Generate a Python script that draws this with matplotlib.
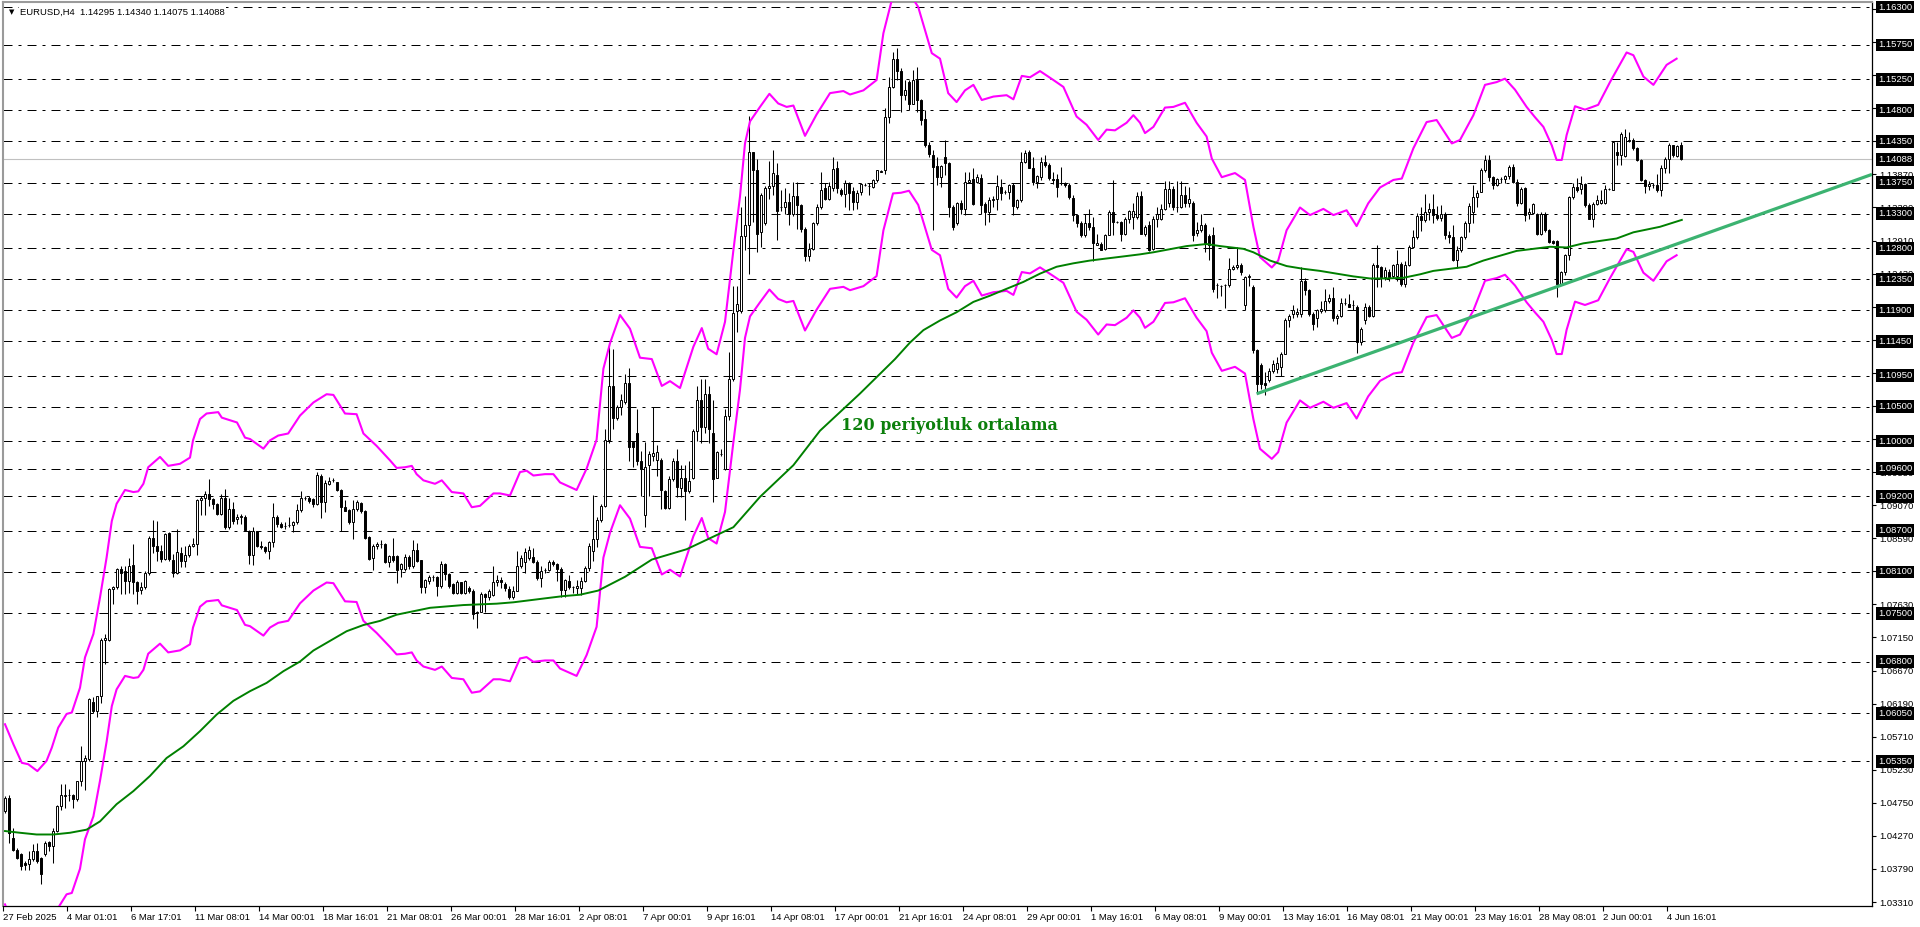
import numpy as np
import matplotlib
matplotlib.use('Agg')
import matplotlib.pyplot as plt

plt.rcParams['font.family'] = ['Liberation Sans', 'DejaVu Sans']

# EURUSD H4 candles, prices in pips above 1.0000
opens = [
    463, 482, 424, 407, 400, 388, 386, 393, 405, 395, 400, 418, 412, 434, 470, 485, 487, 487, 480, 507,
    536, 538, 622, 608, 630, 712, 712, 785, 788, 814, 812, 797, 820, 795, 784, 788, 808, 860, 848, 841,
    829, 866, 827, 808, 838, 826, 834, 848, 851, 915, 917, 923, 916, 908, 894, 918, 876, 901, 887, 890,
    890, 870, 835, 869, 848, 846, 840, 853, 890, 880, 877, 878, 878, 882, 900, 918, 918, 916, 909, 950,
    911, 938, 943, 940, 929, 904, 900, 882, 901, 910, 899, 861, 830, 847, 850, 850, 825, 833, 833, 814,
    815, 832, 818, 842, 827, 788, 797, 802, 802, 789, 822, 807, 793, 780, 795, 780, 787, 782, 750, 752,
    778, 774, 777, 796, 799, 793, 785, 773, 783, 819, 824, 830, 832, 825, 801, 813, 813, 824, 821, 815,
    784, 797, 788, 787, 787, 797, 816, 840, 858, 885, 906, 1002, 1080, 1033, 1049, 1056, 1085, 999, 1012, 971,
    893, 965, 978, 973, 973, 927, 903, 945, 971, 932, 947, 927, 947, 1015, 1059, 1020, 1069, 1012, 947, 981,
    960, 1036, 1090, 1189, 1189, 1298, 1313, 1420, 1394, 1303, 1316, 1368, 1370, 1386, 1339, 1339, 1347, 1329, 1355, 1342,
    1308, 1269, 1279, 1316, 1340, 1368, 1352, 1368, 1396, 1365, 1359, 1375, 1363, 1347, 1361, 1371, 1370, 1369, 1379, 1391,
    1394, 1470, 1514, 1554, 1537, 1502, 1521, 1489, 1524, 1495, 1467, 1430, 1415, 1399, 1383, 1412, 1403, 1340, 1316, 1345,
    1337, 1376, 1380, 1376, 1382, 1344, 1333, 1350, 1351, 1369, 1361, 1361, 1371, 1339, 1350, 1405, 1420, 1397, 1376, 1383,
    1405, 1400, 1381, 1380, 1374, 1374, 1371, 1353, 1328, 1317, 1299, 1317, 1311, 1285, 1286, 1279, 1299, 1333, 1318, 1318,
    1301, 1323, 1325, 1325, 1355, 1301, 1313, 1279, 1323, 1323, 1337, 1346, 1366, 1340, 1340, 1357, 1345, 1345, 1302, 1306,
    1314, 1298, 1299, 1226, 1225, 1226, 1226, 1250, 1252, 1255, 1197, 1238, 1224, 1132, 1111, 1085, 1089, 1101, 1105, 1107,
    1127, 1175, 1185, 1185, 1185, 1233, 1219, 1185, 1178, 1189, 1190, 1204, 1208, 1178, 1182, 1200, 1199, 1198, 1195, 1144,
    1175, 1195, 1182, 1255, 1252, 1238, 1245, 1240, 1240, 1257, 1228, 1255, 1282, 1296, 1326, 1321, 1332, 1337, 1328, 1324,
    1330, 1299, 1296, 1263, 1277, 1296, 1317, 1332, 1354, 1362, 1393, 1408, 1383, 1371, 1381, 1380, 1384, 1398, 1376, 1345,
    1367, 1330, 1331, 1330, 1301, 1330, 1306, 1291, 1291, 1228, 1245, 1270, 1354, 1369, 1366, 1373, 1342, 1323, 1344, 1346,
    1345, 1366, 1365, 1420, 1415, 1414, 1436, 1437, 1425, 1408, 1379, 1370, 1372, 1372, 1364, 1396, 1410, 1429, 1414, 1429.5,
]
highs = [
    485, 487, 439, 410, 402, 390, 405, 415, 417, 397, 420, 420, 439, 472, 502, 502, 495, 488, 507, 558,
    545, 627, 628, 630, 714, 720, 787, 790, 816, 819, 819, 831, 850, 797, 795, 812, 862, 885, 884, 849,
    866, 868, 836, 872, 846, 848, 850, 860, 916, 921, 928, 945, 918, 910, 923, 930, 918, 911, 894, 894,
    892, 871, 875, 870, 855, 848, 855, 910, 892, 882, 882, 890, 884, 909, 928, 920, 920, 918, 955, 952,
    943, 948, 946, 941, 930, 914, 902, 915, 915, 912, 900, 862, 850, 853, 856, 852, 834, 860, 834, 823,
    836, 834, 856, 852, 828, 800, 806, 805, 804, 826, 823, 808, 794, 798, 796, 798, 789, 786, 754, 781,
    779, 785, 818, 806, 803, 796, 790, 790, 841, 835, 845, 847, 845, 828, 819, 816, 827, 828, 823, 817,
    800, 806, 790, 799, 803, 818, 852, 922, 890, 908, 1017, 1142, 1134, 1052, 1069, 1098, 1106, 999, 1046, 986,
    999, 986, 1049, 994, 976, 929, 950, 976, 989, 965, 965, 971, 1017, 1080, 1090, 1090, 1080, 1059, 986, 989,
    1046, 1129, 1225, 1225, 1339, 1355, 1472, 1420, 1409, 1360, 1370, 1407, 1422, 1404, 1365, 1368, 1360, 1376, 1376, 1344,
    1311, 1287, 1318, 1344, 1390, 1374, 1376, 1412, 1407, 1368, 1379, 1376, 1369, 1364, 1375, 1375, 1374, 1381, 1394, 1393,
    1483, 1529, 1565, 1570, 1541, 1524, 1524, 1539, 1543, 1497, 1480, 1434, 1422, 1413, 1400, 1437, 1405, 1342, 1347, 1350,
    1391, 1391, 1396, 1388, 1388, 1347, 1354, 1355, 1386, 1381, 1364, 1373, 1374, 1351, 1420, 1422, 1423, 1412, 1386, 1413,
    1415, 1403, 1391, 1388, 1398, 1376, 1374, 1357, 1330, 1320, 1330, 1337, 1325, 1301, 1289, 1301, 1335, 1379, 1320, 1320,
    1325, 1335, 1345, 1362, 1363, 1314, 1319, 1327, 1340, 1344, 1378, 1378, 1370, 1378, 1378, 1370, 1369, 1348, 1318, 1330,
    1316, 1300, 1310, 1229, 1227, 1228, 1266, 1256, 1282, 1258, 1240, 1242, 1226, 1134, 1113, 1100, 1106, 1117, 1122, 1130,
    1178, 1184, 1197, 1193, 1252, 1236, 1221, 1187, 1192, 1204, 1221, 1214, 1224, 1185, 1208, 1207, 1213, 1205, 1197, 1166,
    1200, 1197, 1258, 1284, 1254, 1252, 1250, 1257, 1278, 1260, 1262, 1284, 1306, 1331, 1339, 1359, 1346, 1358, 1341, 1343,
    1332, 1305, 1313, 1283, 1297, 1319, 1345, 1372, 1364, 1396, 1415, 1415, 1384, 1382, 1383, 1386, 1400, 1402, 1380, 1369,
    1369, 1338, 1346, 1331, 1332, 1332, 1308, 1292, 1292, 1247, 1271, 1355, 1374, 1382, 1385, 1375, 1345, 1347, 1357, 1365,
    1371, 1368, 1436, 1434, 1448, 1453, 1448, 1440, 1427, 1410, 1381, 1377, 1375, 1388, 1401, 1412, 1432, 1430, 1430, 1434,
]
lows = [
    460, 417, 405, 393, 378, 378, 378, 391, 388, 357, 398, 405, 388, 432, 465, 468, 478, 468, 477, 499,
    494, 536, 606, 599, 620, 676, 710, 763, 785, 778, 778, 780, 778, 763, 778, 786, 806, 838, 826, 824,
    827, 826, 802, 807, 817, 817, 832, 846, 834, 892, 892, 906, 901, 892, 892, 872, 872, 880, 880, 880,
    869, 822, 820, 846, 843, 838, 829, 846, 876, 874, 872, 875, 868, 880, 897, 915, 910, 904, 907, 889,
    897, 936, 940, 928, 870, 898, 879, 858, 898, 896, 858, 828, 813, 843, 845, 823, 817, 825, 794, 802,
    812, 814, 816, 824, 780, 780, 793, 797, 775, 787, 798, 787, 778, 778, 778, 778, 779, 742, 729, 752,
    752, 770, 775, 790, 787, 782, 771, 771, 783, 816, 808, 827, 823, 799, 788, 808, 811, 818, 797, 774,
    774, 786, 780, 778, 777, 795, 812, 826, 846, 883, 904, 997, 1017, 1030, 1038, 1054, 971, 963, 965, 921,
    875, 921, 971, 950, 901, 901, 901, 942, 919, 919, 885, 924, 945, 1000, 997, 1012, 997, 911, 947, 978,
    958, 1030, 1087, 1158, 1186, 1277, 1243, 1318, 1274, 1282, 1313, 1352, 1357, 1292, 1334, 1329, 1313, 1326, 1308, 1303,
    1261, 1262, 1277, 1313, 1337, 1350, 1350, 1363, 1360, 1355, 1340, 1335, 1335, 1337, 1357, 1370, 1357, 1367, 1376, 1390,
    1388, 1461, 1512, 1524, 1478, 1495, 1480, 1489, 1478, 1459, 1427, 1413, 1306, 1371, 1369, 1386, 1325, 1306, 1313, 1330,
    1328, 1374, 1342, 1374, 1330, 1313, 1318, 1340, 1335, 1350, 1359, 1352, 1328, 1337, 1347, 1403, 1396, 1371, 1367, 1379,
    1398, 1379, 1373, 1354, 1371, 1369, 1352, 1320, 1311, 1296, 1296, 1306, 1262, 1284, 1277, 1277, 1299, 1299, 1316, 1291,
    1299, 1316, 1308, 1323, 1300, 1297, 1276, 1277, 1311, 1321, 1335, 1340, 1336, 1333, 1338, 1340, 1340, 1290, 1297, 1304,
    1275, 1263, 1216, 1208, 1211, 1193, 1224, 1248, 1250, 1241, 1190, 1225, 1128, 1068, 1075, 1067, 1086, 1099, 1099, 1094,
    1126, 1166, 1178, 1180, 1180, 1212, 1182, 1161, 1165, 1186, 1188, 1200, 1174, 1170, 1180, 1198, 1194, 1190, 1128, 1140,
    1170, 1180, 1180, 1224, 1223, 1234, 1232, 1236, 1232, 1225, 1224, 1254, 1280, 1294, 1305, 1318, 1321, 1317, 1321, 1319,
    1294, 1287, 1261, 1251, 1274, 1294, 1304, 1316, 1340, 1361, 1391, 1377, 1366, 1370, 1375, 1375, 1380, 1374, 1341, 1344,
    1320, 1323, 1330, 1299, 1299, 1303, 1287, 1286, 1209, 1226, 1241, 1263, 1352, 1362, 1359, 1339, 1322, 1311, 1342, 1344,
    1344, 1364, 1364, 1401, 1401, 1412, 1434, 1423, 1406, 1377, 1360, 1365, 1367, 1362, 1355, 1389, 1389, 1413, 1412, 1407.5,
]
closes = [
    482, 431, 407, 395, 383, 385, 393, 405, 390, 372, 417, 412, 434, 470, 486, 487, 486, 480, 507, 536,
    540, 625, 608, 630, 712, 714, 785, 788, 814, 809, 797, 819, 795, 783, 788, 809, 860, 848, 841, 829,
    865, 829, 808, 839, 826, 834, 848, 851, 914, 917, 923, 916, 908, 894, 918, 875, 901, 884, 890, 891,
    871, 835, 869, 848, 846, 841, 853, 890, 879, 876, 877, 878, 882, 900, 918, 918, 913, 909, 951, 911,
    939, 942, 944, 929, 904, 899, 882, 901, 911, 898, 860, 829, 848, 850, 850, 825, 833, 827, 813, 822,
    832, 818, 842, 826, 788, 798, 802, 802, 789, 822, 807, 789, 780, 795, 780, 797, 782, 749, 752, 778,
    774, 783, 796, 799, 796, 787, 773, 783, 819, 830, 839, 842, 825, 801, 812, 813, 824, 821, 814, 784,
    798, 788, 788, 790, 797, 816, 848, 858, 885, 906, 1002, 1080, 1033, 1049, 1059, 1085, 991, 991, 971, 960,
    963, 981, 982, 984, 929, 903, 945, 971, 934, 947, 927, 942, 1015, 1059, 1020, 1069, 1017, 945, 984, 981,
    1036, 1090, 1186, 1199, 1298, 1313, 1420, 1394, 1300, 1357, 1368, 1370, 1389, 1334, 1339, 1347, 1329, 1355, 1342, 1308,
    1269, 1279, 1316, 1340, 1365, 1352, 1370, 1395, 1368, 1359, 1375, 1360, 1347, 1360, 1373, 1371, 1370, 1379, 1393, 1392,
    1470, 1514, 1554, 1537, 1502, 1510, 1489, 1524, 1495, 1466, 1430, 1416, 1398, 1383, 1399, 1403, 1340, 1311, 1345, 1337,
    1376, 1379, 1344, 1383, 1342, 1333, 1350, 1351, 1370, 1360, 1361, 1371, 1341, 1350, 1405, 1418, 1397, 1376, 1384, 1405,
    1400, 1382, 1379, 1369, 1374, 1371, 1354, 1328, 1317, 1299, 1317, 1311, 1288, 1288, 1278, 1299, 1333, 1318, 1318, 1301,
    1323, 1334, 1334, 1355, 1301, 1311, 1277, 1323, 1330, 1337, 1366, 1366, 1339, 1340, 1357, 1345, 1352, 1299, 1306, 1314,
    1287, 1284, 1221, 1226, 1225, 1226, 1250, 1252, 1255, 1245, 1238, 1239, 1132, 1083, 1083, 1081, 1101, 1112, 1113, 1127,
    1175, 1182, 1190, 1188, 1233, 1219, 1185, 1170, 1190, 1191, 1204, 1208, 1178, 1182, 1201, 1200, 1195, 1198, 1144, 1162,
    1195, 1182, 1255, 1252, 1238, 1248, 1238, 1255, 1257, 1228, 1255, 1282, 1296, 1326, 1321, 1333, 1337, 1328, 1324, 1329,
    1299, 1296, 1263, 1277, 1296, 1317, 1341, 1354, 1360, 1393, 1408, 1383, 1371, 1381, 1380, 1384, 1398, 1376, 1345, 1366,
    1328, 1332, 1344, 1301, 1330, 1306, 1289, 1288, 1228, 1245, 1270, 1354, 1369, 1364, 1373, 1342, 1323, 1344, 1350, 1350,
    1366, 1366, 1434, 1415, 1445, 1441, 1437, 1425, 1408, 1379, 1370, 1373, 1372, 1364, 1396, 1410, 1429, 1415, 1428, 1408.8,
]

# Envelopes (1.25 %): upper band, in pips above 1.0000
ENV_DEV = 0.0125
env_bars = [
    0, 2.1, 4.2, 5.8, 8.1, 10.4, 11.7, 13.3, 15.4, 16.7,
    18.75, 20, 22.1, 23.75, 25.4, 26.7, 27.9, 30, 32.1, 33.3,
    34.6, 35.8, 38.75, 40.8, 43.75, 46.25, 47, 48.75, 50.4, 53.3,
    54.2, 58, 60, 61.25, 64.6, 66.25, 68.3, 70.8, 73.75, 77.1,
    80.4, 82.1, 85, 87.9, 89.6, 92.9, 96.25, 97.9, 100, 101.7,
    102.9, 104.6, 107.5, 109.2, 111.7, 114.6, 116.7, 118.75, 122.1, 123.75,
    126.25, 128.75, 130.4, 132.1, 135, 137.1, 138.75, 142.9, 145.4, 147.9,
    149.6, 151.25, 153.75, 156.25, 158.75, 161.7, 164.2, 166.25, 168.75, 172.1,
    174.2, 175.8, 177.9, 180, 182.1, 183.75, 185, 186.25, 188.75, 191.1,
    193.3, 195.4, 197.1, 200, 202.9, 206.25, 209.6, 211.25, 214.6, 217.9,
    219.6, 222, 224, 226, 228.3, 231.7, 233.75, 235.8, 237.9, 240,
    242.1, 244.2, 247.1, 250.4, 252.1, 254.2, 256.25, 258.75, 262.1, 264.6,
    267.9, 270.4, 273.3, 275.4, 277.5, 280.4, 282.1, 283.75, 285, 287.1,
    290, 292.1, 295, 297.9, 300.4, 301.7, 304.2, 307.5, 310, 312.1,
    313.75, 316.7, 318.3, 320.4, 323.75, 326.25, 329.6, 332.1, 335.4, 337.9,
    340.8, 343.75, 347.1, 349.2, 352.1, 355.4, 357.9, 361.7, 363.75, 367.1,
    370, 372.9, 375, 377.5, 380.4, 382.5, 384.6, 386.7, 387.9, 389.2,
    390.4, 392.5, 395, 398.3, 401.25, 405.4, 407.1, 409.6, 412.1, 415.4,
    417.9,
]
env_upper = [
    589, 560, 533, 531, 521, 536, 555, 584, 604, 606,
    642, 686, 720, 773, 831, 884, 909, 929, 926, 927,
    938, 962, 977, 964, 967, 976, 1001, 1032, 1040, 1042,
    1034, 1027, 1005, 1003, 989, 1001, 1008, 1011, 1037, 1056,
    1068, 1067, 1040, 1039, 1011, 993, 972, 961, 962, 964,
    952, 943, 938, 943, 926, 924, 904, 906, 924, 924,
    921, 955, 957, 950, 952, 952, 940, 929, 960, 1002,
    1105, 1142, 1183, 1163, 1121, 1119, 1080, 1087, 1077, 1137,
    1164, 1134, 1126, 1173, 1277, 1355, 1432, 1464, 1485, 1504,
    1490, 1485, 1487, 1443, 1474, 1505, 1508, 1503, 1509, 1524,
    1592, 1647, 1648, 1651, 1630, 1563, 1555, 1505, 1492, 1509,
    1517, 1495, 1500, 1502, 1496, 1530, 1528, 1537, 1524, 1514,
    1471, 1459, 1437, 1452, 1451, 1462, 1473, 1462, 1447, 1456,
    1484, 1485, 1491, 1462, 1442, 1410, 1383, 1389, 1379, 1311,
    1267, 1252, 1262, 1306, 1339, 1328, 1337, 1328, 1335, 1312,
    1345, 1368, 1379, 1381, 1425, 1463, 1466, 1432, 1437, 1473,
    1517, 1521, 1526, 1510, 1485, 1470, 1456, 1429, 1408, 1408,
    1444, 1486, 1481, 1488, 1521, 1564, 1560, 1529, 1517, 1546,
    1555,
]

# 120-period moving average
ma_bars = [
    0, 3.75, 7.9, 12.1, 16.25, 20.4, 23.75, 27.9, 32.1, 36.25,
    40.4, 44.6, 48.75, 52.9, 57.1, 61.25, 65.4, 69.6, 73.75, 77.1,
    85.4, 89.6, 93.75, 97.9, 102.1, 106.25, 110.4, 114.6, 118.75, 122.9,
    127.1, 131.25, 135.4, 139.6, 143.75, 148.3, 155, 161.7, 170.4, 176.25,
    182.1, 188.75, 197.1, 203.75, 213.75, 222.5, 226.25, 229.6, 233.75, 237.9,
    242.1, 246.25, 250.4, 254.6, 258.75, 262.9, 267.1, 271.25, 275.4, 279.6,
    283.75, 287.1, 295.4, 300.4, 303.75, 309.6, 312.1, 316.25, 320.4, 324.6,
    328.75, 332.9, 337.1, 341.25, 345.4, 349.6, 353.75, 357.1, 365.4, 369.6,
    377.9, 386.25, 390.4, 394.6, 402.9, 407.1, 413.75, 419.2,
]
ma_vals = [
    434, 431.5, 429, 429, 431.5, 436, 448, 473, 492, 514,
    540, 557, 579, 603, 623, 637, 649, 666, 680, 696,
    724, 733, 739, 748, 753, 758, 760, 762, 763, 764,
    766, 769, 772, 775, 777, 783, 803, 828, 843, 859,
    875, 919, 965, 1015, 1069, 1119, 1143, 1161, 1175, 1187,
    1202, 1211, 1221, 1231, 1243, 1253, 1258, 1262, 1265, 1268,
    1271, 1274, 1283, 1286, 1283, 1279, 1274, 1262, 1254, 1250,
    1247, 1243, 1239, 1236, 1236, 1237, 1242, 1247, 1253, 1262,
    1276, 1282, 1281, 1287, 1294, 1303, 1311, 1321,
]

# rising trendline anchors (bar, pips)
trend_bars = [312.9, 428.75]
trend_vals = [1068.6, 1308.4]

levels = [1.16300, 1.15750, 1.15250, 1.14800, 1.14350, 1.13750, 1.13300, 1.12800,
          1.12350, 1.11900, 1.11450, 1.10950, 1.10500, 1.10000, 1.09600, 1.09200,
          1.08700, 1.08100, 1.07500, 1.06800, 1.06050, 1.05350]
price_ticks = [1.03310, 1.03790, 1.04270, 1.04750, 1.05230, 1.05710, 1.06190, 1.06670,
               1.07150, 1.07630, 1.08110, 1.08590, 1.09070, 1.09550, 1.10030, 1.10510,
               1.10990, 1.11470, 1.11950, 1.12430, 1.12910, 1.13390, 1.13870, 1.14350,
               1.14830, 1.15310, 1.15790, 1.16270]
time_labels = ['27 Feb 2025', '4 Mar 01:01', '6 Mar 17:01', '11 Mar 08:01', '14 Mar 00:01',
               '18 Mar 16:01', '21 Mar 08:01', '26 Mar 00:01', '28 Mar 16:01', '2 Apr 08:01',
               '7 Apr 00:01', '9 Apr 16:01', '14 Apr 08:01', '17 Apr 00:01', '21 Apr 16:01',
               '24 Apr 08:01', '29 Apr 00:01', '1 May 16:01', '6 May 08:01', '9 May 00:01',
               '13 May 16:01', '16 May 08:01', '21 May 00:01', '23 May 16:01', '28 May 08:01',
               '2 Jun 00:01', '4 Jun 16:01']
LABEL_STEP = 16  # bars between time labels


def px(v):
    return 1 + np.asarray(v, dtype=float) / 10000


W, H = 1920, 927
fig = plt.figure(figsize=(W / 100, H / 100), dpi=100)
fig.patch.set_facecolor('white')
ax = fig.add_axes([3 / W, (H - 906) / H, (1872 - 3) / W, (906 - 2) / H])
ax.set_facecolor('white')

o, h, l, c = px(opens), px(highs), px(lows), px(closes)
idx = np.arange(len(o))
x_right = (1872 - 5) / 4
ax.set_xlim(-0.5, x_right)
ax.set_ylim(1.163 - 899 / 6890, 1.163 + 5 / 6890)

# horizontal levels + current price line
for lev in levels:
    ax.axhline(lev, color='black', lw=0.72, ls=(0, (9, 6, 3, 6)), zorder=1)
ax.axhline(c[-1], color='#C0C0C0', lw=0.8, zorder=1)

# candles
up = c >= o
ax.vlines(idx, l, h, color='black', lw=0.75, zorder=3)
ax.bar(idx[up], (c - o)[up], bottom=o[up], width=0.5, facecolor='white',
       edgecolor='black', linewidth=0.7, zorder=3.5)
ax.bar(idx[~up], (c - o)[~up], bottom=o[~up], width=0.5, facecolor='black',
       edgecolor='black', linewidth=0.7, zorder=3.5)

# indicators
up_band = px(env_upper)
low_band = up_band * (1 - ENV_DEV) / (1 + ENV_DEV)
ax.plot(env_bars, up_band, color='#FF00FF', lw=1.5, zorder=4)
ax.plot(env_bars, low_band, color='#FF00FF', lw=1.5, zorder=4)
ax.plot(ma_bars, px(ma_vals), color='#008000', lw=1.4, zorder=4)

tb = np.array(trend_bars)
tv = px(trend_vals)
slope = (tv[1] - tv[0]) / (tb[1] - tb[0])
ax.plot([tb[0], x_right], [tv[0], tv[0] + slope * (x_right - tb[0])],
        color='#3CB371', lw=2.3, solid_capstyle='butt', zorder=5)

ax.text(209, 1.10225, '120 periyotluk ortalama', color='#0B7F0B', fontsize=11.5,
        fontweight='bold', family='DejaVu Serif', ha='left', va='center', zorder=6)

# axes styling
for side in ['right', 'bottom']:
    ax.spines[side].set_color('black')
    ax.spines[side].set_linewidth(0.9)
for side in ['left', 'top']:
    ax.spines[side].set_color('#9a9a9a')
    ax.spines[side].set_linewidth(1.5)

ax.yaxis.tick_right()
ax.set_yticks(price_ticks)
ax.set_yticklabels([f'{t:.5f}' for t in price_ticks])
ax.tick_params(axis='y', direction='out', length=3, width=0.8, pad=2.5, labelsize=6.8)

ax.set_xticks([LABEL_STEP * i - 0.5 for i in range(len(time_labels))])
ax.set_xticklabels(time_labels, ha='left')
ax.tick_params(axis='x', direction='out', length=3.5, width=0.8, pad=1.5, labelsize=6.8)

ytr = ax.get_yaxis_transform()
for lev in levels + [round(float(c[-1]), 5)]:
    ax.text(1.0033, lev, f'{lev:.5f}', transform=ytr, ha='left', va='center',
            fontsize=6.8, color='white', zorder=10, clip_on=False,
            bbox=dict(boxstyle='square,pad=0.2', fc='black', ec='none'))

# header
header = 'EURUSD,H4  ' + ' '.join(f'{v:.5f}' for v in (o[-1], h[-1], l[-1], c[-1]))
fig.text(20 / W, 1 - 12 / H, header, fontsize=6.8, ha='left', va='center', zorder=10,
         bbox=dict(boxstyle='square,pad=0.15', fc='white', ec='none'))
fig.text(12 / W, 1 - 12 / H, '\u25BC', fontsize=5, ha='center', va='center',
         family='DejaVu Sans')

fig.savefig('out.png', dpi=100, facecolor='white')
